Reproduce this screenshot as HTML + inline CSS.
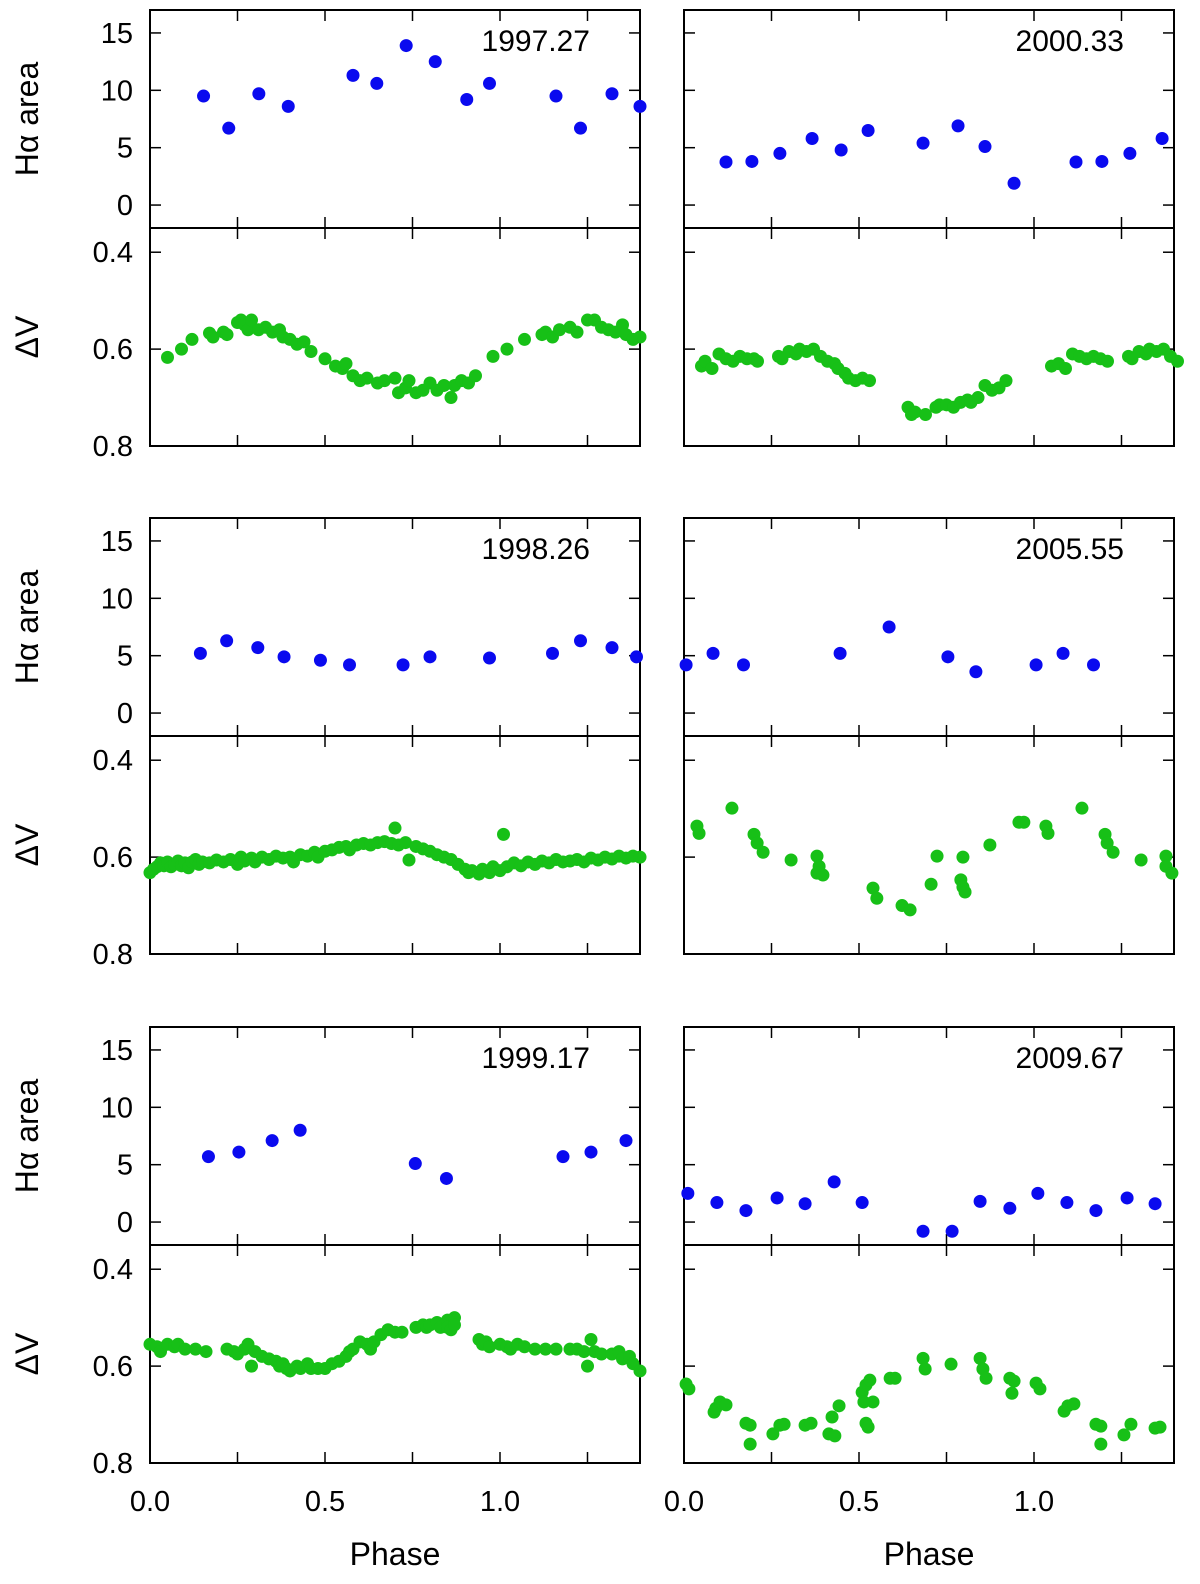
<!DOCTYPE html>
<html><head><meta charset="utf-8">
<style>
html,body{margin:0;padding:0;background:#fff;}
svg{display:block;font-family:"Liberation Sans",Arial,sans-serif;}
</style></head>
<body>
<svg id="chart" width="1200" height="1584" viewBox="0 0 1200 1584" xmlns="http://www.w3.org/2000/svg"></svg>
<script>
// ---- data ----
const epochs = ["1997.27","2000.33","1998.26","2005.55","1999.17","2009.67"];
const haTicks = [0,5,10,15];
const dvTicks = [0.4,0.6,0.8];
const dvTickLabels = ["0.4","0.6","0.8"];
const phaseTicks = [0,0.25,0.5,0.75,1.0,1.25];
const phaseLabels = [[0,"0.0"],[0.5,"0.5"],[1.0,"1.0"]];

const ha1997 = [[.153,9.5],[.225,6.7],[.311,9.7],[.395,8.6],[.58,11.3],[.648,10.6],[.732,13.9],[.815,12.5],[.905,9.2],[.97,10.6],[1.16,9.5],[1.23,6.7],[1.32,9.7],[1.40,8.6]];
const dv1997 = [[0.05,.617],[.09,.60],[.12,.58],[.17,.567],[.18,.575],[.21,.565],[.22,.57],[.25,.545],[.26,.54],[.27,.55],[.28,.56],[.29,.54],[.31,.56],[.33,.555],[.35,.565],[.37,.56],[.38,.575],[.40,.58],[.42,.59],[.44,.585],[.46,.605],[.50,.62],[.53,.635],[.55,.64],[.56,.63],[.58,.655],[.60,.665],[.62,.66],[.65,.67],[.67,.665],[.70,.66],[.71,.69],[.73,.68],[.74,.665],[.76,.69],[.78,.685],[.80,.67],[.82,.685],[.84,.675],[.86,.70],[.87,.675],[.89,.665],[.91,.67],[.93,.655],[.98,.615],[1.02,.60],[1.07,.58],[1.12,.57],[1.13,.565],[1.15,.575],[1.17,.56],[1.20,.555],[1.22,.565],[1.25,.54],[1.27,.54],[1.29,.555],[1.31,.56],[1.33,.565],[1.35,.55],[1.36,.57],[1.38,.58],[1.40,.575]];

const ha2000 = [[.12,3.75],[.194,3.8],[.274,4.5],[.366,5.8],[.449,4.8],[.526,6.5],[.683,5.4],[.783,6.9],[.86,5.1],[.943,1.9],[1.12,3.75],[1.194,3.8],[1.274,4.5],[1.366,5.8]];
const dv2000 = [[.05,.635],[.06,.625],[.08,.64],[.10,.61],[.12,.62],[.14,.625],[.16,.615],[.18,.62],[.20,.62],[.21,.625],[.27,.615],[.28,.62],[.30,.605],[.32,.61],[.33,.60],[.35,.605],[.37,.60],[.39,.615],[.41,.625],[.43,.63],[.44,.64],[.46,.65],[.47,.66],[.49,.665],[.51,.66],[.53,.665],[.64,.72],[.65,.735],[.66,.73],[.69,.735],[.72,.72],[.73,.715],[.75,.715],[.77,.72],[.79,.71],[.81,.705],[.82,.71],[.84,.70],[.86,.675],[.88,.685],[.90,.68],[.92,.665],[1.05,.635],[1.07,.63],[1.09,.64],[1.11,.61],[1.13,.615],[1.15,.62],[1.17,.615],[1.19,.62],[1.21,.625],[1.27,.615],[1.28,.62],[1.30,.605],[1.32,.61],[1.33,.60],[1.35,.605],[1.37,.60],[1.39,.615],[1.41,.625]];

const ha1998 = [[.144,5.2],[.219,6.3],[.308,5.7],[.383,4.9],[.487,4.6],[.57,4.2],[.723,4.2],[.80,4.9],[.97,4.8],[1.15,5.2],[1.23,6.3],[1.32,5.7],[1.39,4.9]];
const dv1998 = [[0,.632],[.01,.625],[.02,.62],[.03,.612],[.04,.618],[.05,.61],[.06,.62],[.07,.615],[.08,.608],[.09,.618],[.10,.612],[.11,.622],[.12,.61],[.13,.605],[.14,.615],[.15,.61],[.17,.612],[.19,.606],[.21,.61],[.23,.605],[.25,.615],[.26,.60],[.27,.608],[.29,.602],[.30,.61],[.32,.60],[.34,.605],[.36,.598],[.38,.602],[.40,.60],[.41,.61],[.43,.595],[.45,.598],[.47,.59],[.48,.60],[.50,.588],[.52,.585],[.54,.58],[.56,.578],[.57,.585],[.59,.575],[.61,.572],[.63,.575],[.65,.57],[.67,.568],[.69,.572],[.70,.54],[.71,.575],[.73,.57],[.74,.606],[.76,.578],[.78,.583],[.80,.588],[.82,.595],[.84,.60],[.86,.605],[.88,.615],[.90,.625],[.91,.632],[.92,.628],[.94,.635],[.95,.625],[.97,.632],[.98,.62],[1.00,.628],[1.01,.553],[1.02,.62],[1.04,.612],[1.06,.618],[1.08,.61],[1.10,.615],[1.12,.608],[1.14,.612],[1.16,.605],[1.18,.61],[1.20,.608],[1.22,.605],[1.24,.61],[1.26,.602],[1.28,.606],[1.30,.60],[1.32,.604],[1.34,.598],[1.36,.602],[1.38,.598],[1.40,.60]];

const ha2005 = [[.006,4.2],[.083,5.2],[.17,4.2],[.446,5.2],[.586,7.5],[.754,4.9],[.834,3.6],[1.006,4.2],[1.083,5.2],[1.17,4.2]];
const dv2005 = [[.037,.536],[.043,.551],[.137,.499],[.20,.553],[.209,.571],[.226,.59],[.306,.606],[.38,.598],[.386,.619],[.38,.633],[.397,.637],[.54,.664],[.551,.685],[.623,.70],[.646,.709],[.706,.656],[.723,.598],[.791,.647],[.797,.662],[.803,.672],[.797,.60],[.874,.575],[.957,.528],[.971,.528],[1.034,.536],[1.04,.551],[1.137,.499],[1.203,.553],[1.209,.571],[1.226,.59],[1.306,.606],[1.377,.598],[1.377,.619],[1.394,.633]];

const ha1999 = [[.167,5.7],[.254,6.1],[.349,7.1],[.429,8.0],[.758,5.1],[.847,3.8],[1.18,5.7],[1.26,6.1],[1.36,7.1]];
const dv1999 = [[0,.555],[.02,.56],[.03,.57],[.05,.555],[.07,.56],[.08,.555],[.10,.565],[.13,.565],[.16,.57],[.22,.565],[.24,.57],[.25,.575],[.27,.565],[.28,.555],[.29,.60],[.30,.57],[.32,.58],[.34,.585],[.36,.59],[.37,.60],[.38,.595],[.39,.605],[.40,.61],[.42,.60],[.43,.605],[.45,.595],[.46,.605],[.48,.605],[.50,.605],[.52,.595],[.54,.59],[.56,.58],[.57,.57],[.58,.565],[.60,.55],[.62,.555],[.63,.565],[.64,.55],[.66,.535],[.68,.525],[.70,.53],[.72,.53],[.76,.52],[.78,.515],[.79,.52],[.80,.515],[.82,.51],[.83,.52],[.85,.505],[.85,.52],[.86,.525],[.87,.50],[.87,.515],[.94,.545],[.95,.555],[.96,.55],[.97,.56],[1.0,.555],[1.02,.56],[1.03,.565],[1.05,.555],[1.07,.56],[1.10,.565],[1.13,.565],[1.16,.565],[1.20,.565],[1.22,.565],[1.24,.57],[1.25,.60],[1.26,.545],[1.27,.57],[1.29,.575],[1.32,.575],[1.34,.57],[1.35,.585],[1.37,.58],[1.38,.595],[1.40,.61]];

const ha2009 = [[.011,2.5],[.094,1.7],[.177,1.0],[.266,2.1],[.346,1.6],[.429,3.5],[.509,1.7],[.683,-0.8],[.766,-0.8],[.846,1.8],[.931,1.2],[1.011,2.5],[1.094,1.7],[1.177,1.0],[1.266,2.1],[1.346,1.6]];
const dv2009 = [[.006,.637],[.014,.647],[.086,.695],[.091,.687],[.103,.674],[.12,.68],[.177,.718],[.189,.722],[.189,.761],[.254,.74],[.274,.722],[.286,.72],[.346,.722],[.363,.718],[.414,.74],[.431,.744],[.423,.705],[.443,.682],[.509,.654],[.514,.674],[.52,.718],[.526,.726],[.54,.674],[.52,.639],[.531,.629],[.589,.625],[.603,.625],[.683,.584],[.689,.606],[.763,.596],[.846,.584],[.854,.606],[.863,.625],[.931,.625],[.943,.631],[.937,.656],[1.006,.635],[1.017,.647],[1.086,.693],[1.097,.682],[1.114,.678],[1.177,.72],[1.191,.724],[1.191,.761],[1.257,.742],[1.277,.72],[1.346,.728],[1.36,.726]];

const haSeries = [ha1997,ha2000,ha1998,ha2005,ha1999,ha2009];
const dvSeries = [dv1997,dv2000,dv1998,dv2005,dv1999,dv2009];

// ---- layout ----
const NS="http://www.w3.org/2000/svg";
const svg=document.getElementById('chart');
const colX=[150,684], PW=490, PH=218, rowTop=[10,518,1027];
const XMIN=0, XMAX=1.4, HMIN=-2, HMAX=17, DMIN=0.35, DMAX=0.8;
function mk(tag,attrs,parent){const e=document.createElementNS(NS,tag);for(const k in attrs)e.setAttribute(k,attrs[k]);(parent||svg).appendChild(e);return e;}
function xs(c,v){return colX[c]+(v-XMIN)/(XMAX-XMIN)*PW;}
function yH(r,v){return rowTop[r]+(HMAX-v)/(HMAX-HMIN)*PH;}
function yD(r,v){return rowTop[r]+PH+(v-DMIN)/(DMAX-DMIN)*PH;}

for(let i=0;i<6;i++){
  const r=Math.floor(i/2), c=i%2;
  const x0=colX[c], top=rowTop[r];
  const g=mk('g',{});
  
  
  const fh=mk('rect',{x:x0,y:top,width:PW,height:PH,fill:'none',stroke:'#000','stroke-width':2},g);
  
  
  const fd=mk('rect',{x:x0,y:top+PH,width:PW,height:PH,fill:'none',stroke:'#000','stroke-width':2},g);
  
  
  for(const t of phaseTicks){
    const x=xs(c,t);
    for(const yy of [top, top+PH, top+2*PH]){
      if(yy>top) mk('line',{x1:x,x2:x,y1:yy,y2:yy-11,stroke:'#000','stroke-width':1.5},g);
      if(yy<top+2*PH) mk('line',{x1:x,x2:x,y1:yy,y2:yy+11,stroke:'#000','stroke-width':1.5},g);
    }
  }
  for(const t of haTicks){
    const y=yH(r,t);
    mk('line',{x1:x0,x2:x0+11,y1:y,y2:y,stroke:'#000','stroke-width':1.5},g);
    mk('line',{x1:x0+PW,x2:x0+PW-11,y1:y,y2:y,stroke:'#000','stroke-width':1.5},g);
    if(c===0){const tl=mk('text',{x:x0-17,y:y+10,'font-size':29,'text-anchor':'end'},g);tl.textContent=t;
      
      }
  }
  dvTicks.forEach((t,k)=>{
    const y=yD(r,t);
    mk('line',{x1:x0,x2:x0+11,y1:y,y2:y,stroke:'#000','stroke-width':1.5},g);
    mk('line',{x1:x0+PW,x2:x0+PW-11,y1:y,y2:y,stroke:'#000','stroke-width':1.5},g);
    if(c===0){const tl=mk('text',{x:x0-17,y:y+10,'font-size':29,'text-anchor':'end'},g);tl.textContent=dvTickLabels[k];
      
      }
  });
  if(c===0){
    const cy=top+PH/2, cy2=top+1.5*PH;
    const a=mk('text',{x:0,y:0,'font-size':32,'text-anchor':'middle',transform:`translate(38,${cy}) rotate(-90)`},g);
    a.textContent='Hα area';
    
    
    const b=mk('text',{x:0,y:0,'font-size':32,'text-anchor':'middle',transform:`translate(38,${cy2}) rotate(-90)`},g);
    b.textContent='ΔV';
    
    
  }
  const el=mk('text',{x:x0+PW-50,y:top+41,'font-size':30,'text-anchor':'end'},g);
  el.textContent=epochs[i];
  
  
  for(const p of haSeries[i]){
    const d=mk('circle',{cx:xs(c,p[0]),cy:yH(r,p[1]),r:6.5,fill:'#0a0aef'},g);
    
    
  }
  for(const p of dvSeries[i]){
    const d=mk('circle',{cx:xs(c,p[0]),cy:yD(r,p[1]),r:6.5,fill:'#17c017'},g);
    
    
  }
  if(r===2){
    for(const [v,s] of phaseLabels){
      const t=mk('text',{x:xs(c,v),y:top+2*PH+48,'font-size':29,'text-anchor':'middle'},g);
      t.textContent=s;
      
      
    }
    const pt=mk('text',{x:x0+245,y:1565,'font-size':32,'text-anchor':'middle'},g);
    pt.textContent='Phase';
    
    
  }
}
</script>
</body></html>
